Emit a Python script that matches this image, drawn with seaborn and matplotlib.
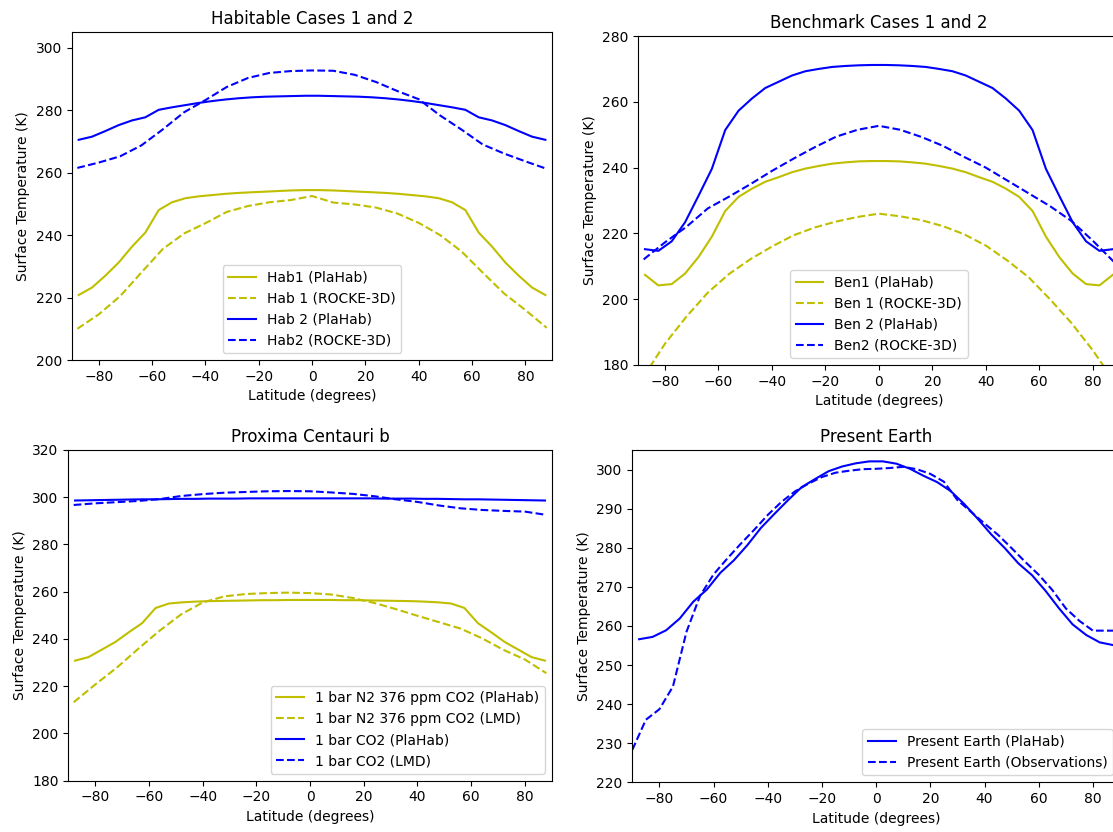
import numpy as np
import matplotlib
matplotlib.use("Agg")
import matplotlib.pyplot as plt
import seaborn as sns

# latitude grids (degrees)
lat_plahab = [-87.5, -82.5, -77.5, -72.5, -67.5, -62.5, -57.5, -52.5, -47.5, -42.5, -37.5, -32.5,
              -27.5, -22.5, -17.5, -12.5, -7.5, -2.5, 2.5, 7.5, 12.5, 17.5, 22.5, 27.5,
              32.5, 37.5, 42.5, 47.5, 52.5, 57.5, 62.5, 67.5, 72.5, 77.5, 82.5, 87.5]
lat_gcm = [-88, -80, -72, -64, -56, -48, -40, -32, -24, -16, -8, 0,
           8, 16, 24, 32, 40, 48, 56, 64, 72, 80, 88]
lat_obs = [-90, -85, -80, -75, -70, -65, -60, -55, -50, -45, -40, -35, -30, -25, -20, -15, -10, -5, 0,
           5, 10, 15, 20, 25, 30, 35, 40, 45, 50, 55, 60, 65, 70, 75, 80, 85, 90]

# Habitable cases
hab1_plahab = [220.8, 223.2, 227.0, 231.2, 236.3, 240.8, 248.0, 250.5, 251.8, 252.4, 252.8, 253.2,
               253.5, 253.7, 253.9, 254.1, 254.3, 254.4, 254.4, 254.3, 254.1, 253.9, 253.7, 253.5,
               253.2, 252.8, 252.4, 251.8, 250.5, 248.0, 240.8, 236.3, 231.2, 227.0, 223.2, 220.8]
hab1_rocke = [210.0, 214.6, 220.4, 228.0, 235.5, 240.5, 243.8, 247.4, 249.3, 250.5, 251.2, 252.5,
              250.4, 249.8, 248.8, 246.9, 243.9, 240.0, 234.8, 228.0, 221.3, 216.0, 210.3]
hab2_plahab = [270.5, 271.5, 273.3, 275.2, 276.7, 277.7, 280.1, 280.9, 281.6, 282.3, 282.9, 283.4,
               283.8, 284.1, 284.3, 284.4, 284.5, 284.6, 284.6, 284.5, 284.4, 284.3, 284.1, 283.8,
               283.4, 282.9, 282.3, 281.6, 280.9, 280.1, 277.7, 276.7, 275.2, 273.3, 271.5, 270.5]
hab2_rocke = [261.5, 263.2, 265.2, 268.7, 273.8, 279.3, 283.2, 287.4, 290.3, 291.9, 292.5, 292.7,
              292.6, 291.3, 289.0, 286.1, 283.5, 278.3, 273.8, 269.0, 266.1, 263.6, 261.2]

# Benchmark cases
ben1_plahab = [207.4, 204.2, 204.6, 207.8, 212.8, 219.0, 226.8, 231.1, 233.6, 235.7, 237.1, 238.6,
               239.7, 240.5, 241.2, 241.6, 241.9, 242.0, 242.0, 241.9, 241.6, 241.2, 240.5, 239.7,
               238.6, 237.1, 235.7, 233.6, 231.1, 226.8, 219.0, 212.8, 207.8, 204.6, 204.2, 207.4]
ben1_rocke = [176.5, 186.5, 194.7, 202.0, 207.7, 212.2, 216.0, 219.4, 221.8, 223.6, 225.0, 226.0,
              225.2, 224.0, 222.2, 219.7, 216.3, 211.8, 206.7, 200.0, 192.8, 184.5, 175.0]
ben2_plahab = [215.2, 214.7, 217.6, 223.4, 231.4, 239.6, 251.4, 257.3, 261.0, 264.2, 266.1, 268.0,
               269.3, 270.0, 270.6, 270.9, 271.1, 271.2, 271.2, 271.1, 270.9, 270.6, 270.0, 269.3,
               268.0, 266.1, 264.2, 261.0, 257.3, 251.4, 239.6, 231.4, 223.4, 217.6, 214.7, 215.2]
ben2_rocke = [212.1, 217.3, 222.0, 227.6, 231.2, 235.0, 239.0, 242.7, 246.2, 249.4, 251.5, 252.7,
              251.5, 249.3, 246.6, 243.2, 240.0, 236.1, 232.2, 228.3, 223.8, 217.8, 211.3]

# Proxima Centauri b
n2_plahab = [230.8, 232.3, 235.5, 238.7, 242.8, 246.7, 253.1, 255.0, 255.5, 255.8, 256.0, 256.1,
             256.2, 256.3, 256.4, 256.4, 256.5, 256.5, 256.5, 256.5, 256.4, 256.4, 256.3, 256.2,
             256.1, 256.0, 255.8, 255.5, 255.0, 253.1, 246.7, 242.8, 238.7, 235.5, 232.3, 230.8]
n2_lmd = [213.2, 220.7, 227.8, 235.8, 243.5, 250.4, 255.4, 258.0, 259.0, 259.4, 259.6, 259.4,
          258.8, 257.3, 255.2, 252.6, 249.8, 247.1, 244.4, 240.3, 235.4, 231.3, 225.5]
co2_plahab = [298.6, 298.7, 298.8, 298.9, 299.0, 299.1, 299.1, 299.2, 299.3, 299.3, 299.4, 299.4,
              299.4, 299.5, 299.5, 299.5, 299.5, 299.5, 299.5, 299.5, 299.5, 299.5, 299.5, 299.4,
              299.4, 299.4, 299.3, 299.3, 299.2, 299.1, 299.1, 299.0, 298.9, 298.8, 298.7, 298.6]
co2_lmd = [296.7, 297.4, 297.9, 298.4, 299.2, 300.5, 301.3, 301.9, 302.2, 302.5, 302.6, 302.5,
           302.0, 301.4, 300.4, 299.1, 298.0, 296.5, 295.3, 294.6, 294.2, 293.9, 292.5]

# Present Earth
earth_plahab = [256.6, 257.2, 258.9, 261.9, 266.2, 269.3, 273.6, 276.8, 280.7, 285.1, 288.7, 292.2,
                295.5, 297.6, 299.6, 300.8, 301.6, 302.1, 302.1, 301.5, 300.2, 298.4, 296.8, 294.5,
                291.2, 287.4, 283.4, 279.9, 276.0, 273.0, 269.0, 264.5, 260.4, 257.7, 255.8, 255.1]
earth_obs = [228.3, 236.0, 238.7, 244.5, 258.5, 267.7, 273.2, 277.2, 281.0, 284.6, 288.4, 291.7, 294.4,
             296.4, 298.1, 299.2, 299.7, 300.1, 300.2, 300.4, 300.7, 300.1, 298.9, 296.9, 292.2,
             289.2, 286.2, 283.3, 279.9, 276.4, 273.1, 269.2, 264.5, 261.3, 258.8, 258.8, 258.8]

YELLOW = (0.75, 0.75, 0.0)
BLUE = (0.0, 0.0, 1.0)


def draw(ax, series, title, ylim, yticks, legend_loc):
    for x, y, color, ls, label in series:
        sns.lineplot(x=x, y=y, ax=ax, color=color, linestyle=ls, linewidth=1.5, label=label)
    ax.set_xlim(-90, 90)
    ax.set_ylim(*ylim)
    ax.set_xticks([-80, -60, -40, -20, 0, 20, 40, 60, 80])
    ax.set_yticks(yticks)
    ax.set_title(title, fontsize=12)
    ax.set_xlabel("Latitude (degrees)")
    ax.set_ylabel("Surface Temperature (K)")
    ax.legend(loc=legend_loc)


fig = plt.figure(figsize=(11.13, 8.32), dpi=100)

ax1 = fig.add_axes([0.0647, 0.5673, 0.4313, 0.3942])
draw(ax1, [
    (lat_plahab, hab1_plahab, YELLOW, "-", "Hab1 (PlaHab)"),
    (lat_gcm, hab1_rocke, YELLOW, "--", "Hab 1 (ROCKE-3D)"),
    (lat_plahab, hab2_plahab, BLUE, "-", "Hab 2 (PlaHab)"),
    (lat_gcm, hab2_rocke, BLUE, "--", "Hab2 (ROCKE-3D)"),
], "Habitable Cases 1 and 2", (200, 305), [200, 220, 240, 260, 280, 300], "lower center")

ax2 = fig.add_axes([0.5735, 0.5613, 0.4323, 0.3954])
draw(ax2, [
    (lat_plahab, ben1_plahab, YELLOW, "-", "Ben1 (PlaHab)"),
    (lat_gcm, ben1_rocke, YELLOW, "--", "Ben 1 (ROCKE-3D)"),
    (lat_plahab, ben2_plahab, BLUE, "-", "Ben 2 (PlaHab)"),
    (lat_gcm, ben2_rocke, BLUE, "--", "Ben2 (ROCKE-3D)"),
], "Benchmark Cases 1 and 2", (180, 280), [180, 200, 220, 240, 260, 280], "lower center")

ax3 = fig.add_axes([0.0614, 0.0617, 0.4343, 0.3975])
draw(ax3, [
    (lat_plahab, n2_plahab, YELLOW, "-", "1 bar N2 376 ppm CO2 (PlaHab)"),
    (lat_gcm, n2_lmd, YELLOW, "--", "1 bar N2 376 ppm CO2 (LMD)"),
    (lat_plahab, co2_plahab, BLUE, "-", "1 bar CO2 (PlaHab)"),
    (lat_gcm, co2_lmd, BLUE, "--", "1 bar CO2 (LMD)"),
], "Proxima Centauri b", (180, 320), [180, 200, 220, 240, 260, 280, 300, 320], "lower right")

ax4 = fig.add_axes([0.5681, 0.0597, 0.4382, 0.3994])
draw(ax4, [
    (lat_plahab, earth_plahab, BLUE, "-", "Present Earth (PlaHab)"),
    (lat_obs, earth_obs, BLUE, "--", "Present Earth (Observations)"),
], "Present Earth", (220, 305), [220, 230, 240, 250, 260, 270, 280, 290, 300], "lower right")

fig.savefig("out.png", dpi=100)
